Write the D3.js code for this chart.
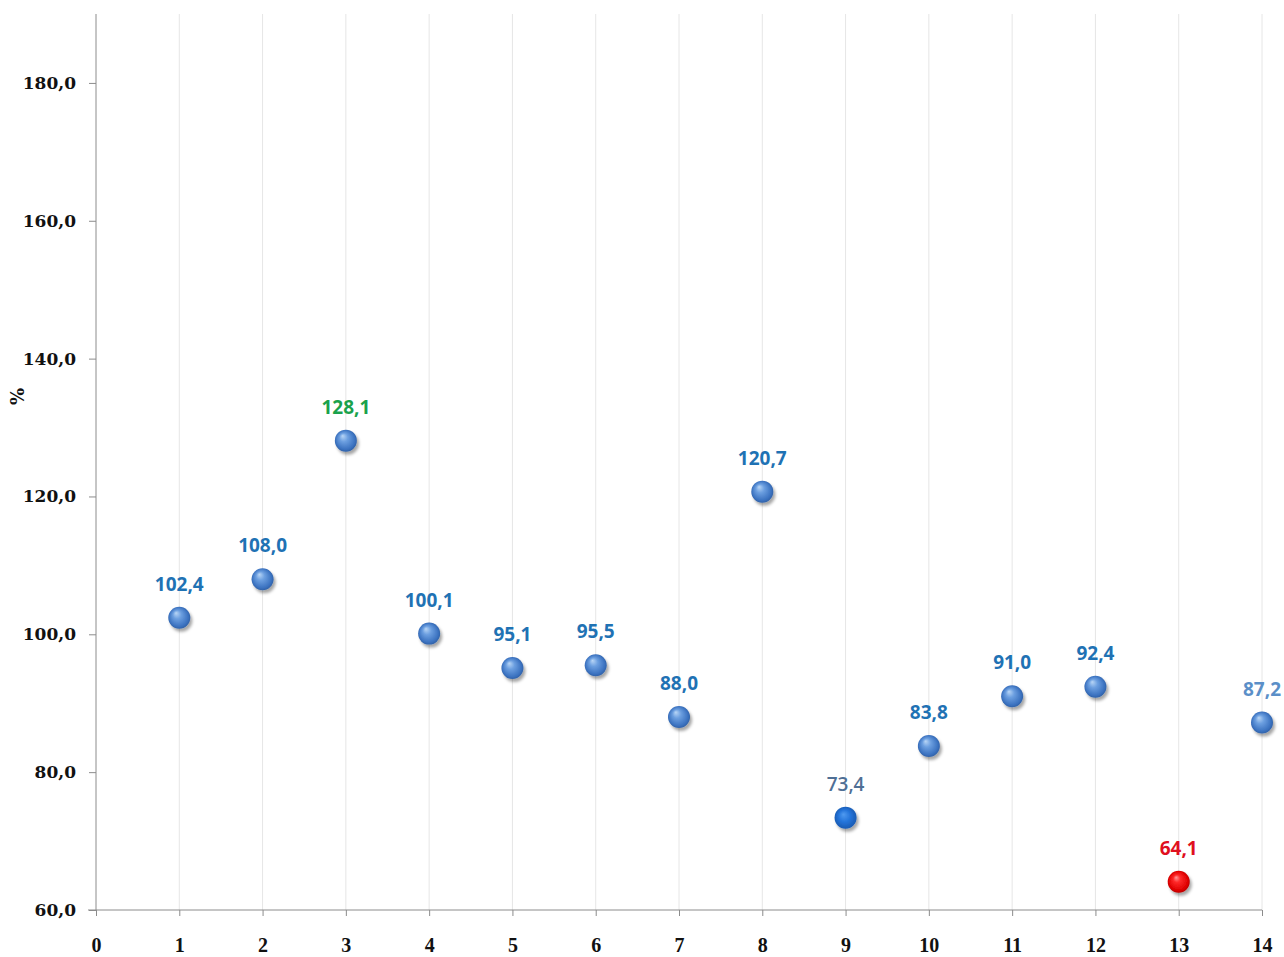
<!DOCTYPE html>
<html lang="ru">
<head>
<meta charset="UTF-8">
<title>chart</title>
<style>
  body { margin: 0; background: #fff; }
  svg { display: block; }
</style>
</head>
<body>
<script src="https://cdn.jsdelivr.net/npm/d3@7/dist/d3.min.js"></script>
<script>
// данные
var categories = [1, 2, 3, 4, 5, 6, 7, 8, 9, 10, 11, 12, 13, 14];
var values = [102.4, 108.0, 128.1, 100.1, 95.1, 95.5, 88.0, 120.7, 73.4, 83.8, 91.0, 92.4, 64.1, 87.2];
var xTicks = [0, 1, 2, 3, 4, 5, 6, 7, 8, 9, 10, 11, 12, 13, 14];
var yTicks = [60, 80, 100, 120, 140, 160, 180];

// оформление точек (по номеру точки)
var labelColor = function(i) {
  if (i === 2) return "#1aa24c";
  if (i === 12) return "#e0101e";
  if (i === 8) return "#4f6f95";
  if (i === 13) return "#5b8fc8";
  return "#1f72b4";
};
var markerFill = function(i) {
  if (i === 12) return "url(#gRed)";
  if (i === 8) return "url(#gDeep)";
  return "url(#gBlue)";
};

var width = 1284, height = 957;
var svg = d3.select("body").append("svg")
  .attr("width", width)
  .attr("height", height);

var defs = svg.append("defs");
function radial(id, stops, fx, fy) {
  var g = defs.append("radialGradient").attr("id", id)
    .attr("cx", "50%").attr("cy", "50%").attr("r", "55%")
    .attr("fx", fx).attr("fy", fy);
  stops.forEach(function(s) {
    g.append("stop").attr("offset", s[0]).attr("stop-color", s[1]);
  });
}
radial("gBlue", [["0%", "#b9d6f6"], ["35%", "#6c9fe0"], ["80%", "#3b72c0"], ["100%", "#2c5a9c"]], "35%", "28%");
radial("gRed", [["0%", "#ff9a9a"], ["30%", "#ff2a2a"], ["80%", "#de0000"], ["100%", "#a80000"]], "38%", "30%");
radial("gDeep", [["0%", "#4f9af0"], ["50%", "#2474da"], ["100%", "#1857ad"]], "40%", "35%");

var f = defs.append("filter").attr("id", "shadow")
  .attr("x", "-50%").attr("y", "-50%").attr("width", "200%").attr("height", "200%");
f.append("feDropShadow").attr("dx", 2).attr("dy", 3).attr("stdDeviation", 1.8)
  .attr("flood-color", "#000").attr("flood-opacity", 0.35);

var x = d3.scaleLinear().domain([0, 14]).range([96, 1262]);
var y = d3.scaleLinear().domain([60, 190]).range([910, 14]);

// вертикальная сетка
svg.append("g")
  .selectAll("line")
  .data(xTicks.slice(1))
  .enter()
  .append("line")
  .attr("x1", function(d) { return x(d); })
  .attr("x2", function(d) { return x(d); })
  .attr("y1", y(190))
  .attr("y2", y(60))
  .attr("stroke", "#e6e6e6")
  .attr("stroke-width", 1);

// ось Y
var yAxis = svg.append("g")
  .attr("transform", "translate(" + x(0) + ",0)")
  .call(d3.axisLeft(y).tickValues(yTicks).tickSize(7).tickPadding(13)
    .tickFormat(function(d) { return d3.format(".1f")(d).replace(".", ","); }));
yAxis.select(".domain").attr("stroke", "#8c8c8c").attr("d", "M0," + y(190) + "V" + y(60));
yAxis.selectAll(".tick line").attr("stroke", "#8c8c8c");
yAxis.selectAll(".tick text")
  .attr("fill", "#111")
  .style("font-family", "'DejaVu Serif', serif")
  .style("font-weight", "bold")
  .style("font-size", "17px");

// ось X
var xAxis = svg.append("g")
  .attr("transform", "translate(0," + y(60) + ")")
  .call(d3.axisBottom(x).tickValues(xTicks).tickSize(6).tickPadding(22)
    .tickFormat(d3.format("d")));
xAxis.select(".domain").attr("stroke", "#8c8c8c").attr("d", "M" + (x(0) - 8) + ",0H" + x(14));
xAxis.selectAll(".tick line").attr("stroke", "#8c8c8c");
xAxis.selectAll(".tick text")
  .attr("fill", "#111")
  .style("font-family", "'Liberation Serif', serif")
  .style("font-weight", "bold")
  .style("font-size", "20px");

// подпись оси
svg.append("text")
  .attr("transform", "translate(24," + y(134.5) + ") rotate(-90)")
  .attr("text-anchor", "middle")
  .attr("fill", "#111")
  .style("font-family", "'DejaVu Serif', serif")
  .style("font-weight", "bold")
  .style("font-size", "18px")
  .text("%");

// точки
svg.append("g")
  .selectAll("circle")
  .data(values)
  .enter()
  .append("circle")
  .attr("cx", function(d, i) { return x(categories[i]); })
  .attr("cy", function(d) { return y(d); })
  .attr("r", 11)
  .attr("fill", function(d, i) { return markerFill(i); })
  .attr("filter", "url(#shadow)");

// подписи значений
svg.append("g")
  .selectAll("text")
  .data(values)
  .enter()
  .append("text")
  .attr("x", function(d, i) { return x(categories[i]); })
  .attr("y", function(d) { return y(d) - 27; })
  .attr("text-anchor", "middle")
  .attr("fill", function(d, i) { return labelColor(i); })
  .style("font-family", "'Open Sans', sans-serif")
  .style("font-weight", function(d, i) { return i === 8 ? "600" : "bold"; })
  .style("font-size", "19px")
  .text(function(d) { return d3.format(".1f")(d).replace(".", ","); });
</script>
</body>
</html>
